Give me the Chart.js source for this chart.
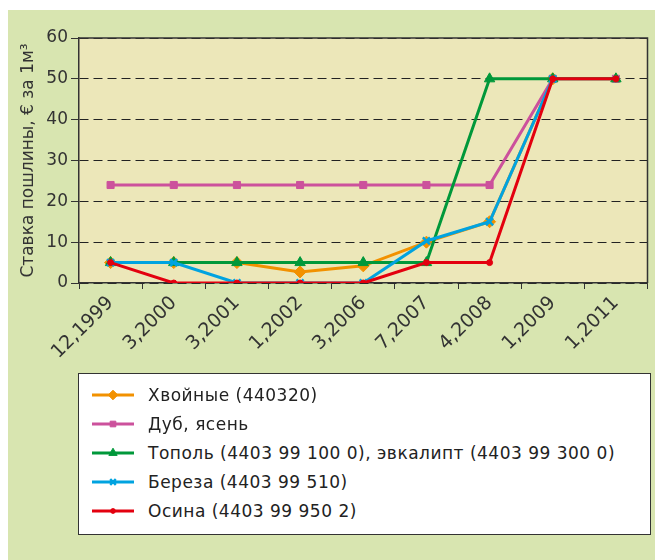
<!DOCTYPE html>
<html>
<head>
<meta charset="utf-8">
<script src="https://cdn.jsdelivr.net/npm/chart.js@4"></script>
<style>
  html, body { margin: 0; padding: 0; background: #fff; }
  #bg { position: absolute; left: 8px; top: 10px; width: 647px; height: 550px; background: #d8e5b0; }
  #wrap { position: absolute; left: 0; top: 0; width: 655px; height: 560px; }
  #legend { position: absolute; left: 78px; top: 373px; width: 571px; height: 160px; background: #fff;
            border: 1.5px solid #333; font-family: "DejaVu Sans", sans-serif; font-size: 17px;
            letter-spacing: 0.5px; color: #222; }
  .row { position: absolute; left: 13px; height: 20px; display: flex; align-items: center; white-space: nowrap; }
  .row canvas { margin-right: 14px; }
</style>
</head>
<body>
<div id="bg"></div>
<div id="wrap"><canvas id="duty"></canvas></div>
<div id="legend"></div>
<script>
// periods (month,year) on the x axis
const periods = ['12,1999', '3,2000', '3,2001', '1,2002', '3,2006', '7,2007', '4,2008', '1,2009', '1,2011'];

// export duty, EUR per m3
const coniferous = [5, 5, 5, 2.7, 4.2, 10, 15, 50, null];
const oakAsh     = [24, 24, 24, 24, 24, 24, 24, 50, 50];
const poplar     = [5, 5, 5, 5, 5, 5, 50, 50, 50];
const birch      = [5, 5, 0, 0, 0, 10.3, 15, 50, null];
const aspen      = [5, 0, 0, 0, 0, 5, 5, 50, 50];

const seriesNames = [
    'Хвойные (440320)',
    'Дуб, ясень',
    'Тополь (4403 99 100 0), эвкалипт (4403 99 300 0)',
    'Береза (4403 99 510)',
    'Осина (4403 99 950 2)'
];
const yTicks = [0, 10, 20, 30, 40, 50, 60];

function series(idx, data, color, style, radius, order, bw) {
    return {
        label: seriesNames[idx],
        data: data,
        borderColor: color,
        backgroundColor: color,
        borderWidth: 3,
        pointStyle: style,
        pointRadius: radius,
        pointBackgroundColor: color,
        pointBorderColor: color,
        pointBorderWidth: bw || 1,
        tension: 0,
        order: order
    };
}

// plot area fill and frame
const plotFrame = {
    id: 'plotFrame',
    beforeDraw(chart) {
        const {ctx, chartArea: a} = chart;
        ctx.save();
        ctx.fillStyle = '#ece7b9';
        ctx.fillRect(a.left, a.top, a.right - a.left, a.bottom - a.top);
        ctx.restore();
    },
    afterDraw(chart) {
        const {ctx, chartArea: a} = chart;
        ctx.save();
        ctx.strokeStyle = '#333';
        ctx.lineWidth = 1.5;
        ctx.beginPath();
        ctx.moveTo(a.left, a.top);
        ctx.lineTo(a.right, a.top);
        ctx.lineTo(a.right, a.bottom);
        ctx.stroke();
        ctx.restore();
    }
};

const dutyChart = new Chart(document.getElementById('duty'), {
    type: 'line',
    data: {
        labels: periods,
        datasets: [
            series(0, coniferous, '#f29100', 'rectRot', 6, 4),
            series(1, oakAsh, '#cc519c', 'rect', 5, 3),
            series(2, poplar, '#00983a', 'triangle', 6, 2),
            series(3, birch, '#00a3e0', 'crossRot', 5, 1, 2.5),
            series(4, aspen, '#e3000f', 'circle', 3, 0)
        ]
    },
    options: {
        responsive: true,
        maintainAspectRatio: false,
        animation: false,
        layout: { padding: { top: 38, right: 6, left: 0, bottom: 0 } },
        plugins: {
            legend: { display: false },
            tooltip: { enabled: false }
        },
        scales: {
            x: {
                offset: true,
                grid: { offset: true, drawOnChartArea: false, tickLength: 6, tickColor: '#333', tickWidth: 1 },
                border: { color: '#333', width: 1.5 },
                ticks: {
                    autoSkip: false,
                    minRotation: 45,
                    maxRotation: 45,
                    padding: 3,
                    color: '#333',
                    font: { family: 'DejaVu Sans', size: 19 }
                },
                afterFit: function(scale) { scale.height = 277; }
            },
            y: {
                min: 0,
                max: 60,
                afterBuildTicks: function(scale) { scale.ticks = yTicks.map(v => ({ value: v })); },
                grid: { color: '#222', lineWidth: 1, tickLength: 8, tickColor: '#333', tickBorderDash: [] },
                border: { color: '#333', width: 1.5, dash: [9, 5] },
                ticks: {
                    padding: 3,
                    color: '#333',
                    font: { family: 'DejaVu Sans', size: 17 }
                },
                title: {
                    display: true,
                    text: 'Ставка пошлины, € за 1м³',
                    color: '#333',
                    font: { family: 'DejaVu Sans', size: 17 },
                    padding: { top: 18, bottom: 0 }
                },
                afterFit: function(scale) { scale.width = 79; }
            }
        }
    },
    plugins: [plotFrame]
});

// legend, one row per series, built from the datasets
const legendBox = document.getElementById('legend');
dutyChart.data.datasets.forEach(function(ds, i) {
    const row = document.createElement('div');
    row.className = 'row';
    row.style.top = (10.5 + i * 29) + 'px';
    const c = document.createElement('canvas');
    c.width = 42; c.height = 14;
    const ctx = c.getContext('2d');
    ctx.strokeStyle = ds.borderColor;
    ctx.lineWidth = 3;
    ctx.beginPath(); ctx.moveTo(0, 7); ctx.lineTo(42, 7); ctx.stroke();
    ctx.fillStyle = ds.pointBackgroundColor;
    ctx.lineWidth = ds.pointBorderWidth;
    if (Chart.helpers && Chart.helpers.drawPoint) {
        Chart.helpers.drawPoint(ctx, { pointStyle: ds.pointStyle, radius: ds.pointRadius * 0.8, borderWidth: ds.pointBorderWidth, rotation: 0 }, 21, 7);
    }
    row.appendChild(c);
    const t = document.createElement('span');
    t.textContent = ds.label;
    row.appendChild(t);
    legendBox.appendChild(row);
});
</script>
</body>
</html>
